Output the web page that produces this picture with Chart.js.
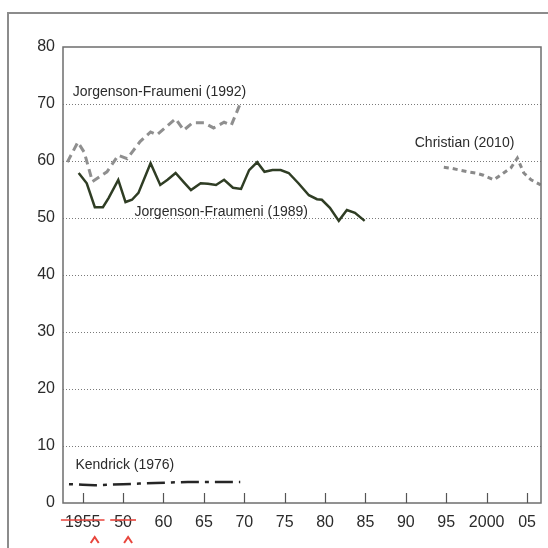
<!DOCTYPE html>
<html>
<head>
<meta charset="utf-8">
<script src="https://cdn.jsdelivr.net/npm/chart.js@4/dist/chart.umd.min.js"></script>
<style>
  html, body { margin: 0; padding: 0; background: #fff; }
  #wrap { width: 548px; height: 548px; position: relative; }
</style>
</head>
<body>
<div id="wrap"><canvas id="chart"></canvas></div>
<script>
// values (labour share, %)
const jf1992Years = [1948.1, 1949.4, 1950.2, 1951.2, 1953.0, 1954.4, 1955.5, 1957.1, 1958.4, 1959.2, 1961.5, 1962.5, 1963.6, 1965.0, 1966.2, 1967.5, 1968.4, 1969.6];
const jf1992Values = [59.8, 63.3, 61.5, 56.4, 58.1, 61.0, 60.4, 63.4, 65.1, 64.6, 67.4, 65.4, 66.7, 66.7, 65.8, 66.8, 66.3, 70.4];

const jf1989Years = [1949.5, 1950.5, 1951.5, 1952.5, 1953.2, 1954.4, 1955.3, 1956.1, 1956.9, 1958.4, 1959.6, 1960.5, 1961.5, 1962.5, 1963.4, 1964.6, 1965.5, 1966.5, 1967.5, 1968.6, 1969.6, 1970.6, 1971.6, 1972.5, 1973.5, 1974.5, 1975.5, 1976.7, 1978.0, 1979.0, 1979.6, 1980.6, 1981.7, 1982.7, 1983.7, 1984.9];
const jf1989Values = [57.9, 56.1, 51.9, 51.9, 53.5, 56.7, 52.8, 53.2, 54.4, 59.6, 55.8, 56.7, 57.9, 56.3, 54.9, 56.1, 56.0, 55.8, 56.7, 55.3, 55.1, 58.4, 59.8, 58.1, 58.4, 58.4, 57.9, 56.1, 54.0, 53.3, 53.2, 51.8, 49.5, 51.4, 50.9, 49.5];

const christianYears = [1994.7, 1995.7, 1996.7, 1997.7, 1998.6, 1999.6, 2000.9, 2002.1, 2003.0, 2003.8, 2004.6, 2005.5, 2006.7];
const christianValues = [58.9, 58.7, 58.4, 58.1, 57.9, 57.5, 56.7, 57.9, 58.8, 60.5, 57.9, 56.7, 55.8];

const kendrickYears = [1948.3, 1950.0, 1951.5, 1953.0, 1955.0, 1957.0, 1959.0, 1961.0, 1963.0, 1965.0, 1967.0, 1969.5];
const kendrickValues = [3.3, 3.2, 3.1, 3.2, 3.3, 3.4, 3.5, 3.6, 3.7, 3.7, 3.7, 3.7];

// x tick labels as printed (first two struck through in red on the scan)
const xTickValues = [1950, 1955, 1960, 1965, 1970, 1975, 1980, 1985, 1990, 1995, 2000, 2005];
const xTickLabels = ['1955', '50', '60', '65', '70', '75', '80', '85', '90', '95', '2000', '05'];

const seriesNames = ['Jorgenson-Fraumeni (1992)', 'Jorgenson-Fraumeni (1989)', 'Christian (2010)', 'Kendrick (1976)'];

const FONT = '"Liberation Sans", Arial, Helvetica, sans-serif';
const INK = '#2b2b2b';

function pts(xs, ys) {
    return xs.map((x, i) => ({ x: x, y: ys[i] }));
}

// series label anchors, in data units (left edge, vertical centre)
const seriesLabelPos = [
    { x: 1948.76, y: 72.1 },
    { x: 1956.4, y: 51.0 },
    { x: 1991.1, y: 63.2 },
    { x: 1949.1, y: 6.7 }
];

const decorPlugin = {
    id: 'decor',
    beforeDraw(chart) {
        const ctx = chart.ctx;
        ctx.save();
        ctx.fillStyle = '#fff';
        ctx.fillRect(0, 0, chart.width, chart.height);
        // outer panel frame of the scanned page
        ctx.strokeStyle = '#8c8c8c';
        ctx.lineWidth = 2;
        ctx.beginPath();
        ctx.moveTo(8, chart.height);
        ctx.lineTo(8, 13);
        ctx.lineTo(chart.width, 13);
        ctx.stroke();
        ctx.restore();
    },
    afterDatasetsDraw(chart) {
        const ctx = chart.ctx;
        const a = chart.chartArea;
        const xs = chart.scales.x;
        const ys = chart.scales.y;
        ctx.save();
        // plot frame
        ctx.strokeStyle = '#6e6e6e';
        ctx.lineWidth = 1.5;
        ctx.strokeRect(a.left, a.top, a.right - a.left, a.bottom - a.top);
        // inward tick marks on x axis
        ctx.strokeStyle = '#555';
        ctx.lineWidth = 1.2;
        xTickValues.forEach(v => {
            const px = Math.round(xs.getPixelForValue(v)) + 0.5;
            ctx.beginPath();
            ctx.moveTo(px, a.bottom);
            ctx.lineTo(px, a.bottom - 10);
            ctx.stroke();
        });
        // series labels
        ctx.fillStyle = INK;
        ctx.font = '14px ' + FONT;
        ctx.textBaseline = 'middle';
        ctx.textAlign = 'left';
        seriesNames.forEach((name, i) => {
            const p = seriesLabelPos[i];
            ctx.fillText(name, xs.getPixelForValue(p.x), ys.getPixelForValue(p.y));
        });
        // red editorial marks on the first two tick labels
        ctx.strokeStyle = '#e8453c';
        ctx.lineWidth = 1.6;
        ctx.font = '16px ' + FONT;
        const ly = 520;
        [0, 1].forEach(i => {
            const cx = xs.getPixelForValue(xTickValues[i]);
            const w = ctx.measureText(xTickLabels[i]).width;
            ctx.beginPath();
            ctx.moveTo(cx - w / 2 - 4, ly);
            ctx.lineTo(cx + w / 2 + 4, ly);
            ctx.stroke();
        });
        ctx.lineWidth = 2;
        [xs.getPixelForValue(1950) + 12, xs.getPixelForValue(1955) + 5].forEach(cx => {
            ctx.beginPath();
            ctx.moveTo(cx - 4, 543);
            ctx.lineTo(cx, 537);
            ctx.lineTo(cx + 4, 543);
            ctx.stroke();
        });
        ctx.restore();
    }
};

const ctx = document.getElementById('chart').getContext('2d');
new Chart(ctx, {
    type: 'line',
    data: {
        datasets: [
            {
                label: seriesNames[0],
                data: pts(jf1992Years, jf1992Values),
                borderColor: '#8f8f8f',
                borderWidth: 3,
                borderDash: [8, 5],
                pointRadius: 0,
                tension: 0
            },
            {
                label: seriesNames[1],
                data: pts(jf1989Years, jf1989Values),
                borderColor: '#2f3d24',
                borderWidth: 2.5,
                pointRadius: 0,
                tension: 0
            },
            {
                label: seriesNames[2],
                data: pts(christianYears, christianValues),
                borderColor: '#8a8a8a',
                borderWidth: 3,
                borderDash: [5, 4],
                pointRadius: 0,
                tension: 0
            },
            {
                label: seriesNames[3],
                data: pts(kendrickYears, kendrickValues),
                borderColor: '#262626',
                borderWidth: 2.5,
                borderDash: [4, 6, 18, 6],
                pointRadius: 0,
                tension: 0
            }
        ]
    },
    options: {
        responsive: true,
        maintainAspectRatio: false,
        animation: false,
        layout: { padding: { top: 47, right: 7, left: 0, bottom: 0 } },
        plugins: {
            legend: { display: false },
            tooltip: { enabled: false },
            title: { display: false }
        },
        scales: {
            x: {
                type: 'linear',
                min: 1947.56,
                max: 2006.73,
                afterFit(scale) { scale.height = 45; },
                afterBuildTicks(scale) {
                    scale.ticks = xTickValues.map(v => ({ value: v }));
                },
                border: { display: false },
                grid: { display: false },
                ticks: {
                    autoSkip: false,
                    maxRotation: 0,
                    padding: 2,
                    color: INK,
                    font: { family: FONT, size: 16 },
                    callback: (v) => {
                        const i = xTickValues.indexOf(v);
                        return i >= 0 ? xTickLabels[i] : '';
                    }
                }
            },
            y: {
                min: 0,
                max: 80,
                afterFit(scale) { scale.width = 63; },
                border: { display: false, dash: [1, 2] },
                grid: {
                    drawTicks: false,
                    color: (c) => (c.tick.value === 0 || c.tick.value === 80) ? 'rgba(0,0,0,0)' : '#7a7a7a',
                    lineWidth: 1
                },
                ticks: {
                    stepSize: 10,
                    padding: 8,
                    color: INK,
                    font: { family: FONT, size: 16 }
                }
            }
        }
    },
    plugins: [decorPlugin]
});
</script>
</body>
</html>
